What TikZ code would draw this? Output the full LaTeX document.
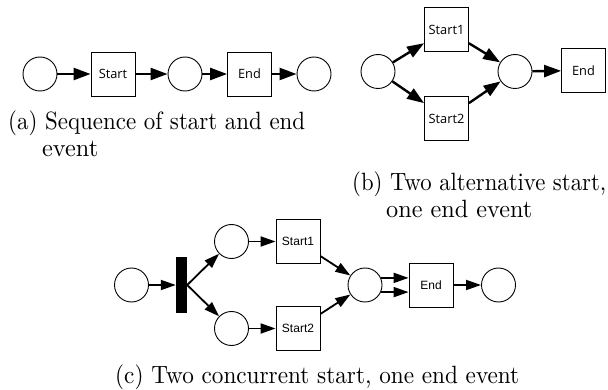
\documentclass[tikz,border=0pt]{standalone}
\usepackage{fontspec}
\usepackage{graphicx}
\newfontfamily\osans{Open Sans}
\newfontfamily\asans{Liberation Sans}
\newfontfamily\capfont{lmroman10-regular}[Extension=.otf]
\usetikzlibrary{arrows.meta,calc}
\begin{document}
\begin{tikzpicture}[x=1pt,y=-1pt,
  place/.style={circle,draw,line width=0.9pt,minimum size=34pt,inner sep=0pt},
  trans/.style={rectangle,draw,line width=0.8pt,minimum size=44pt,inner sep=0pt},
  osl/.style={font=\osans\fontsize{12.8}{14}\selectfont},
  asl/.style={font=\asans\fontsize{12}{14}\selectfont},
  arrA/.style={line width=2.4pt,-{Triangle[length=17pt,width=12pt]}},
  arrC/.style={line width=1.8pt,-{Triangle[length=15pt,width=10pt]}},
  capt/.style={font=\capfont\fontsize{25}{28}\selectfont,inner sep=0pt,anchor=base west}]
\useasboundingbox (0,0) rectangle (608,390);
% (a)
\node[place] (a1) at (40,74) {};
\node[trans,osl] (as) at (113,74) {Start};
\node[place] (a2) at (185,74) {};
\node[trans,osl] (ae) at (249.5,74) {End};
\node[place] (a3) at (314,74) {};
\draw[arrA] (a1) -- (as);
\draw[arrA] (as) -- (a2);
\draw[arrA] (a2) -- (ae);
\draw[arrA] (ae) -- (a3);
\node[capt] (capa1) at (8,129.5) {\resizebox{297pt}{\height}{(a) Sequence of start and end}};
\node[capt] (capa2) at (42,157) {\resizebox{56pt}{\height}{event}};
% (b)
\node[place] (b1) at (378,71.5) {};
\node[trans,osl] (bs1) at (446.5,29.5) {Start1};
\node[trans,osl] (bs2) at (446.5,118.5) {Start2};
\node[place] (b2) at (515,71.5) {};
\node[trans,osl] (be) at (583.5,70.5) {End};
\draw[arrA] (b1) -- (bs1);
\draw[arrA] (b1) -- (bs2);
\draw[arrA] (bs1) -- (b2);
\draw[arrA] (bs2) -- (b2);
\draw[arrA] (b2) -- (be);
\node[capt] (capb1) at (352,191) {\resizebox{254pt}{\height}{(b) Two alternative start,}};
\node[capt] (capb2) at (386,218) {\resizebox{146pt}{\height}{one end event}};
% (c)
\node[place] (c1) at (131.5,285) {};
\node[rectangle,fill=black,minimum width=11pt,minimum height=56pt,inner sep=0pt] (bar) at (181.5,285) {};
\node[place] (cu) at (231.5,241.5) {};
\node[place] (cl) at (231.5,328.5) {};
\node[trans,asl] (cs1) at (298,241.5) {Start1};
\node[trans,asl] (cs2) at (298,328.5) {Start2};
\node[place] (cm) at (365,285) {};
\node[trans,asl] (ce) at (431,285) {End};
\node[place] (c2) at (498.5,285) {};
\draw[arrC] (c1) -- (bar);
\draw[arrC] (bar.east) -- (cu);
\draw[arrC] (bar.east) -- (cl);
\draw[arrC] (cu) -- (cs1);
\draw[arrC] (cl) -- (cs2);
\draw[arrC] (cs1) -- (cm);
\draw[arrC] (cs2) -- (cm);
\draw[arrC] (cm.24) -- (cm.24 -| ce.west);
\draw[arrC] (cm.-24) -- (cm.-24 -| ce.west);
\draw[arrC] (ce) -- (c2);
\node[capt] (capc) at (115,383) {\resizebox{404pt}{\height}{(c) Two concurrent start, one end event}};
\end{tikzpicture}
\end{document}
